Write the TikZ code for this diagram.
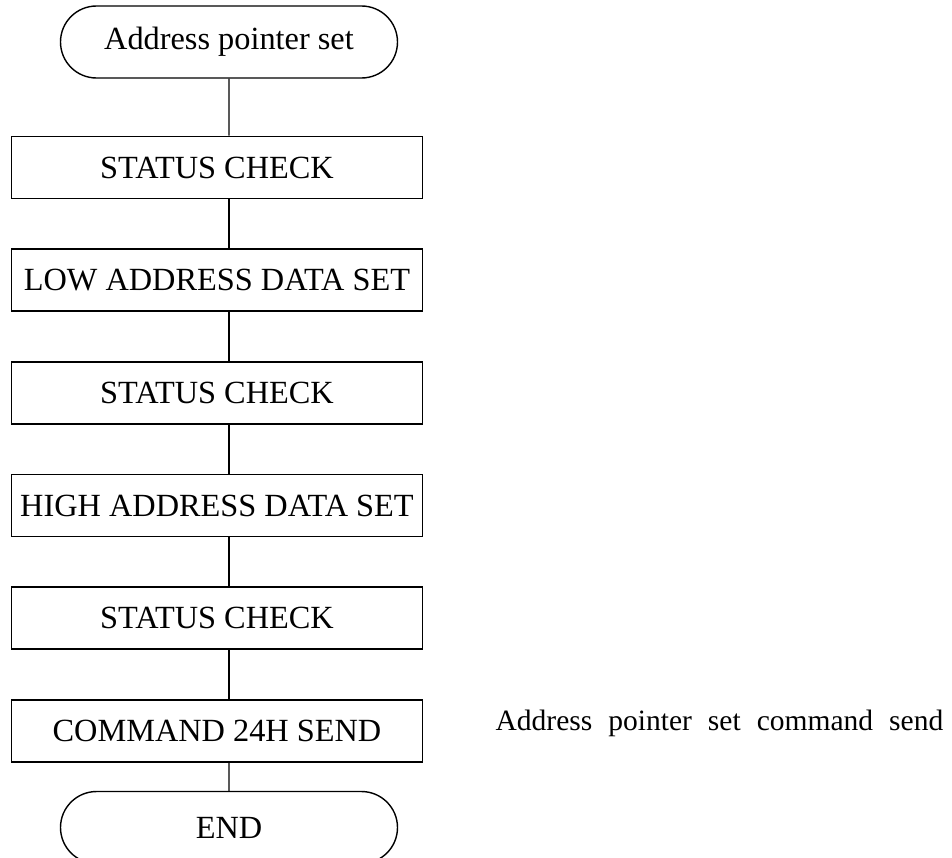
\documentclass[tikz,border=0pt]{standalone}
\usepackage{fontspec}
\setmainfont{Liberation Serif}
\usepackage{tikz}
\usetikzlibrary{shapes,shapes.misc}
\usetikzlibrary{positioning}
\usetikzlibrary{calc}
\tikzset{process/.style={draw=black, line width=1.2pt, rectangle, inner sep=0pt, minimum width=10.275cm, minimum height=1.55cm, font=\fontsize{23}{27}\selectfont}}
\tikzset{terminal/.style={draw=black, line width=1pt, rounded rectangle, inner sep=0pt, minimum width=8.425cm, minimum height=1.8cm, font=\fontsize{23}{27}\selectfont}}
\tikzset{note/.style={inner sep=0pt, font=\fontsize{21}{25}\selectfont}}

\begin{document}
\begin{tikzpicture}[node distance=1.225cm]
\useasboundingbox (-5.725,1.05) rectangle (18.075,-20.4);
\node[terminal] (start) at (0,0) {Address pointer set};
\node[process, below=1.425cm of start, xshift=-0.3cm] (chka) {STATUS CHECK};
\node[process, below=of chka] (lowset) {LOW ADDRESS DATA SET};
\node[process, below=of lowset] (chkb) {STATUS CHECK};
\node[process, below=of chkb] (highset) {HIGH ADDRESS DATA SET};
\node[process, below=of highset] (chkc) {STATUS CHECK};
\node[process, below=of chkc] (cmd) {COMMAND 24H SEND};
\node[terminal, below=0.7cm of cmd, xshift=0.3cm] (stop) {END};
\node[note, right=1.8cm of cmd, yshift=0.2cm] (cmdnote) {\spaceskip=0.4cm\relax Address pointer set command send};
\draw [line width=0.8pt] (start) -- (start |- chka.north);
\draw [line width=0.8pt] (chka.south -| start) -- (lowset.north -| start);
\draw [line width=0.8pt] (lowset.south -| start) -- (chkb.north -| start);
\draw [line width=0.8pt] (chkb.south -| start) -- (highset.north -| start);
\draw [line width=0.8pt] (highset.south -| start) -- (chkc.north -| start);
\draw [line width=0.8pt] (chkc.south -| start) -- (cmd.north -| start);
\draw [line width=0.8pt] (cmd.south -| start) -- (stop);
\end{tikzpicture}
\end{document}
